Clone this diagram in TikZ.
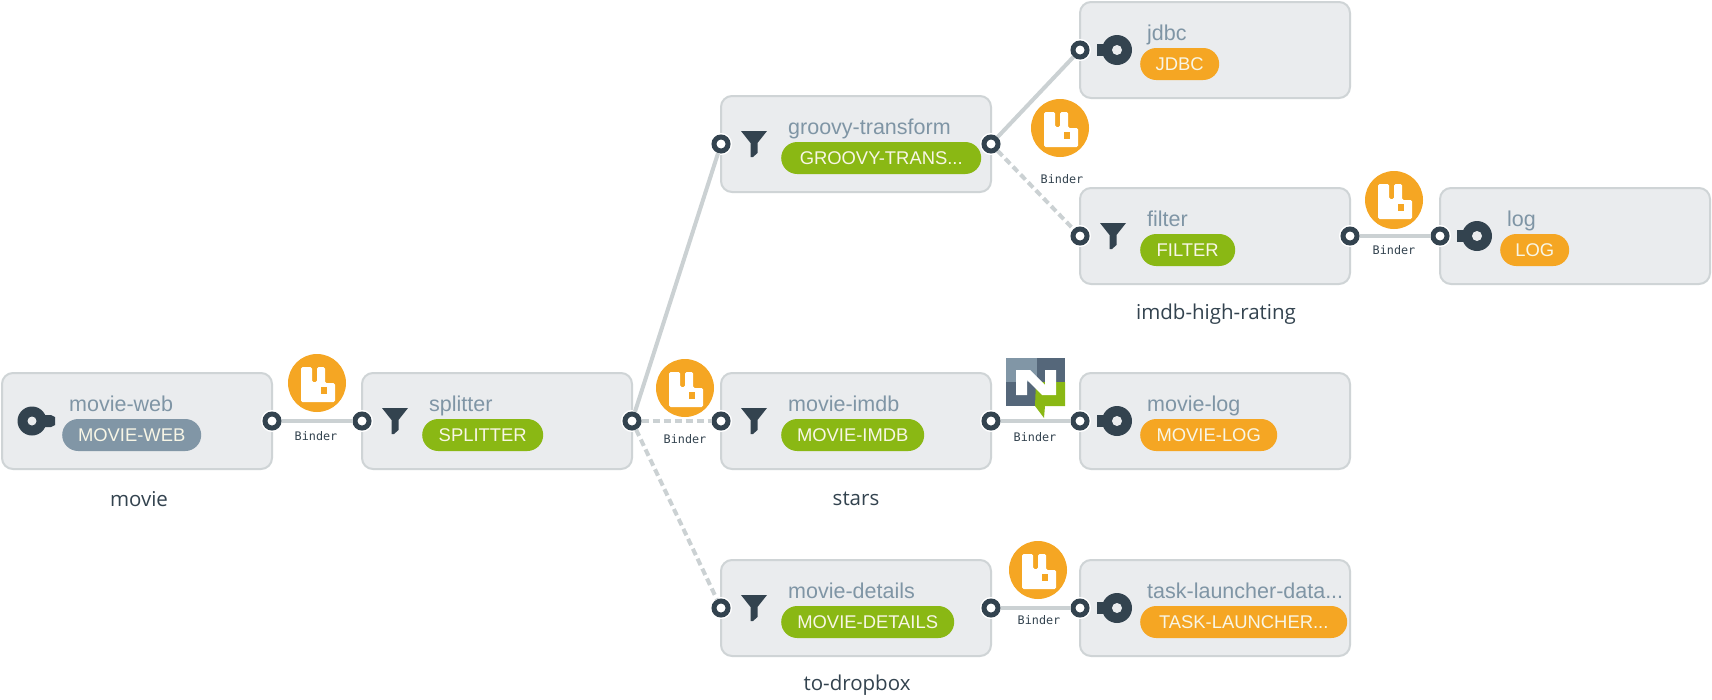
\documentclass[tikz,border=0pt]{standalone}
\usepackage{fontspec}
\setmainfont{Open Sans}
\newfontfamily\bindfont{DejaVu Sans Mono}
\newfontfamily\uifont{Liberation Sans}
\definecolor{boxfill}{HTML}{EAECEE}
\definecolor{boxline}{HTML}{CFD4D6}
\definecolor{wire}{HTML}{CBD1D3}
\definecolor{dark}{HTML}{33434F}
\definecolor{nametext}{HTML}{7F95A5}
\definecolor{slate}{HTML}{8196A6}
\definecolor{amber}{HTML}{F5A623}
\definecolor{leaf}{HTML}{8AB814}
\definecolor{paleink}{HTML}{F8F6E6}
\definecolor{dither}{HTML}{55677A}
\tikzset{
  appbox/.style={draw=boxline,line width=2pt,fill=boxfill,rounded corners=11pt,minimum width=270pt,minimum height=96pt,anchor=north west,inner sep=0pt,outer sep=0pt},
  appname/.style={text=nametext,font=\uifont\fontsize{21.5}{23}\selectfont,anchor=base west,inner sep=0pt},
  pill/.style={rounded corners=16pt,minimum height=32pt,inner sep=0pt,anchor=west,text height=13pt,text depth=0pt,font=\uifont\fontsize{18.4}{20}\selectfont,text=paleink},
  port/.style={circle,draw=dark,line width=5pt,fill=white,minimum size=14pt,inner sep=0pt,preaction={draw=white,line width=8pt}},
  wireline/.style={draw=wire,line width=4pt},
  wiredash/.style={draw=wire,line width=4pt,dash pattern=on 7pt off 4pt},
  binder/.style={font=\bindfont\fontsize{11.8}{13}\selectfont,text=dark,inner sep=0pt},
  grouplabel/.style={font=\fontsize{20.5}{22}\selectfont,text=dark,inner sep=0pt},
  funnelicon/.pic={\fill[dark] (-13,-13) -- (13,-13) -- (3.5,-1) -- (3.5,9) -- (-1,13) -- (-3.5,13) -- (-3.5,-1) -- cycle;},
  keysource/.pic={\fill[dark] (0,0) circle (14.5); \fill[dark] (10,-6) -- (19,-6) -- (23,-4) -- (23,4) -- (19,6) -- (10,6) -- cycle; \fill[boxfill] (0,0) circle (4.5);},
  keysink/.pic={\fill[dark] (0,0) circle (15); \fill[dark] (-10,-6) -- (-20,-6) -- (-20,6) -- (-10,6) -- cycle; \fill[boxfill] (0,0) circle (5);},
  rabbiticon/.pic={
    \fill[amber] (0,0) circle (29);
    \fill[white,rounded corners=1.5pt] (-16,19) -- (-16,-16) -- (-5,-16) -- (-5,-1) -- (0,-1) -- (0,-16) -- (8,-16) -- (8,0) -- (18,0) -- (18,19) -- cycle;
    \fill[amber] (3.5,4) rectangle (10,10.5);
  },
}
\newcommand{\appbox}[7]{%
  \node[appbox] (#1) at (#2,#3) {};
  \node[appname] (#1-name) at ([shift={(67,38)}]#1.north west) {#4};
  \node[pill,fill=#7,minimum width=#6pt] (#1-pill) at ([shift={(60,14)}]#1.west) {#5};
}
\begin{document}
\begin{tikzpicture}[x=1pt,y=-1pt]
\useasboundingbox[fill=white] (0,0) rectangle (1712,699);
\appbox{web}{2}{373}{movie-web}{MOVIE-WEB}{139}{slate}
\appbox{split}{362}{373}{splitter}{SPLITTER}{121}{leaf}
\appbox{groovy}{721}{96}{groovy-transform}{GROOVY-TRANS...}{200}{leaf}
\appbox{imdb}{721}{373}{movie-imdb}{MOVIE-IMDB}{143}{leaf}
\appbox{details}{721}{560}{movie-details}{MOVIE-DETAILS}{173}{leaf}
\appbox{jdbc}{1080}{2}{jdbc}{JDBC}{79}{amber}
\appbox{filter}{1080}{188}{filter}{FILTER}{95}{leaf}
\appbox{logb}{1440}{188}{log}{LOG}{69}{amber}
\appbox{mlog}{1080}{373}{movie-log}{MOVIE-LOG}{137}{amber}
\appbox{task}{1080}{560}{task-launcher-data...}{TASK-LAUNCHER...}{207}{amber}
% ports
\node[port] (web-o) at (web.east) {};
\node[port] (split-i) at (split.west) {};
\node[port] (split-o) at (split.east) {};
\node[port] (groovy-i) at (groovy.west) {};
\node[port] (groovy-o) at (groovy.east) {};
\node[port] (imdb-i) at (imdb.west) {};
\node[port] (imdb-o) at (imdb.east) {};
\node[port] (details-i) at (details.west) {};
\node[port] (details-o) at (details.east) {};
\node[port] (jdbc-i) at (jdbc.west) {};
\node[port] (filter-i) at (filter.west) {};
\node[port] (filter-o) at (filter.east) {};
\node[port] (logb-i) at (logb.west) {};
\node[port] (mlog-i) at (mlog.west) {};
\node[port] (task-i) at (task.west) {};
% connectors
\draw[wireline] (web-o) -- (split-i);
\draw[wireline] (split-o) -- (groovy-i);
\draw[wiredash] (split-o) -- (imdb-i);
\draw[wiredash] (split-o) -- (details-i);
\draw[wireline] (groovy-o) -- (jdbc-i);
\draw[wiredash] (groovy-o) -- (filter-i);
\draw[wireline] (filter-o) -- (logb-i);
\draw[wireline] (imdb-o) -- (mlog-i);
\draw[wireline] (details-o) -- (task-i);
% icons
\pic at ([xshift=30pt]web.west) {keysource};
\pic at ([xshift=33pt]split.west) {funnelicon};
\pic at ([xshift=33pt]groovy.west) {funnelicon};
\pic at ([xshift=33pt]imdb.west) {funnelicon};
\pic at ([xshift=33pt]details.west) {funnelicon};
\pic at ([xshift=33pt]filter.west) {funnelicon};
\pic at ([xshift=37pt]jdbc.west) {keysink};
\pic at ([xshift=37pt]logb.west) {keysink};
\pic at ([xshift=37pt]mlog.west) {keysink};
\pic at ([xshift=37pt]task.west) {keysink};
\pic at (317,383) {rabbiticon};
\pic at (685,388) {rabbiticon};
\pic at (1060,128) {rabbiticon};
\pic at (1394,200) {rabbiticon};
\pic at (1038,570) {rabbiticon};
% NATS mark
\fill[slate] (1006,358) rectangle (1065,406);
\fill[dither] (1037,358) rectangle (1065,382);
\fill[dither] (1006,382) rectangle (1036,406);
\fill[leaf] (1036,382) -- (1065,382) -- (1065,406) -- (1045,406) -- (1044,418) -- (1035,406) -- cycle;
\fill[white] (1016,370) -- (1030,370) -- (1045,385) -- (1045,370) -- (1056,370) -- (1056,395) -- (1042,395) -- (1027,380) -- (1027,395) -- (1016,395) -- cycle;
% binder labels
\node[binder] (b1) at (316,436) {Binder};
\node[binder] (b2) at (685,439) {Binder};
\node[binder] (b3) at (1062,179) {Binder};
\node[binder] (b4) at (1394,250) {Binder};
\node[binder] (b5) at (1035,437) {Binder};
\node[binder] (b6) at (1039,620) {Binder};
% group labels
\node[grouplabel] (g1) at (139,499) {movie};
\node[grouplabel] (g2) at (856,499) {stars};
\node[grouplabel] (g3) at (857,685) {to-dropbox};
\node[grouplabel] (g4) at (1216,314) {imdb-high-rating};
\end{tikzpicture}
\end{document}
